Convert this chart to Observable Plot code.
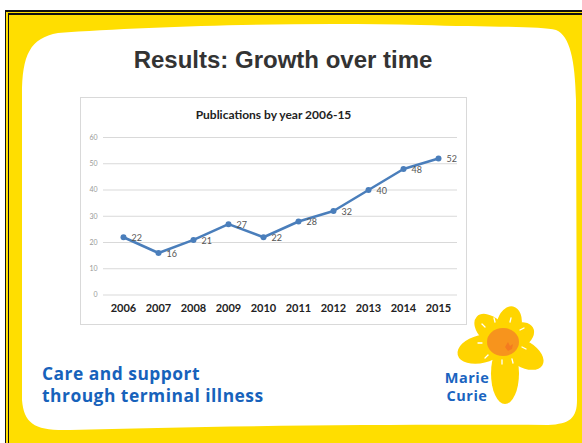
<!DOCTYPE html>
<html><head><meta charset="utf-8">
<script src="https://cdn.jsdelivr.net/npm/d3@7"></script>
<script src="https://cdn.jsdelivr.net/npm/@observablehq/plot@0.6"></script>
<style>
html,body{margin:0;padding:0;width:582px;height:443px;overflow:hidden;background:#fff;}
#slide{position:absolute;left:5px;top:10px;width:640px;height:500px;background:#FFDE00;border-top:5px double #111;border-left:4px double #111;box-sizing:border-box;}
#deco{position:absolute;left:0;top:0;}
#title{position:absolute;left:0;width:566px;top:46px;text-align:center;font:bold 24px "Liberation Sans",Arial,sans-serif;color:#333;}
#chartbox{position:absolute;left:80px;top:97px;width:387px;height:228px;box-sizing:border-box;border:1px solid #d9d9d9;background:#fff;}
#ctitle{position:absolute;left:0;right:0;top:9px;text-align:center;font:bold 12px Lato,sans-serif;color:#222;}
#plot{position:absolute;left:0;top:28px;}
.tag{position:absolute;left:42px;font:bold 17.4px "Open Sans",sans-serif;color:#1762bb;line-height:22px;height:22px;letter-spacing:0.5px;white-space:nowrap;}
.logo{position:absolute;left:437px;width:60px;text-align:center;font:bold 14.5px "Open Sans",sans-serif;color:#1a64c0;line-height:18px;height:18px;letter-spacing:0.5px;white-space:nowrap;}
</style>
</head><body>
<div id="slide"></div>
<svg id="deco" width="582" height="443">
  <path d="M22,95 C22,55 30,38 58,33 C150,26 300,22 420,25 C480,27 540,26 556,30 C570,36 575,60 576,100 L577,400 C577,418 570,424 548,425 C400,424 200,426 70,430 C35,431 24,424 22,400 Z" fill="#fff"/>
  <g fill="#FFD500">
    <ellipse cx="509" cy="325" rx="19" ry="12.5" transform="rotate(-77.5 509 325)"/>
    <ellipse cx="491" cy="330" rx="19.5" ry="12.5" transform="rotate(-137 491 330)"/>
    <ellipse cx="481.5" cy="349" rx="24.5" ry="14" transform="rotate(166 481.5 349)"/>
    <ellipse cx="505" cy="373.5" rx="30.5" ry="14" transform="rotate(90 505 373.5)"/>
    <ellipse cx="523.5" cy="354" rx="22" ry="13" transform="rotate(30.7 523.5 354)"/>
    <ellipse cx="518.5" cy="335.5" rx="16.5" ry="12" transform="rotate(-29 518.5 335.5)"/>
    <circle cx="505" cy="343" r="21"/>
  </g>
  <ellipse cx="503" cy="342" rx="16" ry="14" fill="#F7941D"/>
  <path d="M505,347 l3,-5 l2,4 l3,-2 l-1,5 l-4,2 z" fill="#F47B20"/>
  <g stroke="#fff" stroke-width="1.3" stroke-linecap="round">
    <line x1="485" y1="327" x2="482" y2="324"/>
    <line x1="495" y1="322" x2="494" y2="318"/>
    <line x1="510" y1="322" x2="511" y2="318"/>
    <line x1="520" y1="330" x2="524" y2="328"/>
    <line x1="522" y1="347" x2="526" y2="349"/>
    <line x1="512" y1="359" x2="513" y2="363"/>
    <line x1="502" y1="360" x2="502" y2="364"/>
    <line x1="488" y1="355" x2="485" y2="358"/>
    <line x1="482" y1="343" x2="478" y2="343"/>
  </g>
</svg>
<div id="title">Results: Growth over time</div>
<div id="chartbox">
  <div id="ctitle">Publications by year 2006-15</div>
  <div id="plot"></div>
</div>
<div class="tag" style="top:362px">Care and support</div>
<div class="tag" style="top:384px">through terminal illness</div>
<div class="logo" style="top:368.5px">Marie</div>
<div class="logo" style="top:386.5px">Curie</div>
<script>
const years = ["2006","2007","2008","2009","2010","2011","2012","2013","2014","2015"];
const publications = [22,16,21,27,22,28,32,40,48,52];
const yTicks = [0,10,20,30,40,50,60];
const data = years.map((y,i)=>({year:y, n:publications[i]}));
const chart = Plot.plot({
  width: 385, height: 198,
  marginTop: 11, marginBottom: 29.5, marginLeft: 22, marginRight: 9,
  style: {fontFamily: "Lato, sans-serif", background: "transparent", overflow: "visible"},
  x: {type: "point", domain: years, padding: 0.55, label: null},
  y: {domain: [0,60], label: null},
  marks: [
    Plot.gridY(yTicks, {stroke: "#d9d9d9", strokeOpacity: 1}),
    Plot.axisY(yTicks, {tickSize: 0, tickPadding: 6, fontSize: 7, color: "#999", label: null}),
    Plot.axisX({tickSize: 0, tickPadding: 9, fontSize: 11, fontWeight: "bold", color: "#222", label: null}),
    Plot.line(data, {x: "year", y: "n", stroke: "#4a7ebb", strokeWidth: 2.5}),
    Plot.dot(data, {x: "year", y: "n", r: 3, fill: "#4a7ebb"}),
    Plot.text(data, {x: "year", y: "n", text: "n", dx: 8, dy: 1, textAnchor: "start", fontSize: 9, fill: "#555"})
  ]
});
document.getElementById("plot").appendChild(chart);
</script>
</body></html>
